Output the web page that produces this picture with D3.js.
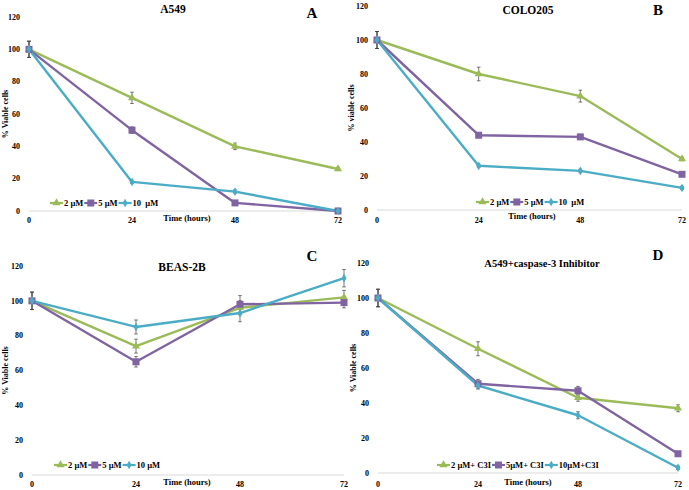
<!DOCTYPE html>
<html><head><meta charset="utf-8">
<script src="https://cdn.jsdelivr.net/npm/d3@7/dist/d3.min.js"></script>
<style>
body{margin:0;background:#fff;}
text{font-family:"Liberation Serif","Times New Roman",serif;font-weight:bold;fill:#000;white-space:pre;}
</style></head><body>
<script>
const times = [0, 24, 48, 72];
const yTicks = [0, 20, 40, 60, 80, 100, 120];
const colors = ["#9BBB59", "#8064A2", "#4BACC6"];

// Panel A: A549
const aNames = ["2 µM", "5 µM", "10  µM"];
const a2 = [100, 70, 40, 26];
const a5 = [100, 50, 5, 0];
const a10 = [100, 18, 12, 0];
const a2Err = [5, 3.5, 2, 1];
const a5Err = [5, 2, 1, 0.5];
const a10Err = [5, 1, 1, 0.5];

// Panel B: COLO205
const bNames = ["2 µM", "5 µM", "10  µM"];
const b2 = [100, 80, 67, 30];
const b5 = [100, 44, 43, 21];
const b10 = [100, 26, 23, 13];
const b2Err = [5, 4, 3.5, 1];
const b5Err = [5, 1.5, 1.5, 1];
const b10Err = [5, 1, 1, 1];

// Panel C: BEAS-2B
const cNames = ["2 µM", "5 µM", "10 µM"];
const c2 = [100, 74, 96, 102];
const c5 = [100, 65, 98, 99];
const c10 = [100, 85, 93, 113];
const c2Err = [5, 4, 4, 4];
const c5Err = [5, 3, 5, 3];
const c10Err = [5, 4, 5, 5];

// Panel D: A549 + caspase-3 inhibitor
const dNames = ["2 µM+ C3I", "5µM+ C3I", "10µM+C3I"];
const d2 = [100, 71, 43, 37];
const d5 = [100, 51, 47, 11];
const d10 = [100, 50, 33, 3];
const d2Err = [5, 4, 2, 2];
const d5Err = [5, 2.5, 2.5, 1];
const d10Err = [5, 2, 2, 1];

const panels = [
  {title:"A549", letter:"A", ylab:"% Viable cells", names:aNames, series:[a2,a5,a10], errs:[a2Err,a5Err,a10Err],
   x0:29, x1:338, y0:211, y120:17, titleX:173, titleY:13, letX:312, letY:18, legX:50, legY:203, timeX:187, timeY:221, tickY:223, ylabX:8},
  {title:"COLO205", letter:"B", ylab:"% viable cells", names:bNames, series:[b2,b5,b10], errs:[b2Err,b5Err,b10Err],
   x0:377, x1:682, y0:210, y120:6, titleX:528, titleY:14, letX:658, letY:15, legX:476, legY:202, timeX:532, timeY:219, tickY:223, ylabX:354},
  {title:"BEAS-2B", letter:"C", ylab:"% Viable cells", names:cNames, series:[c2,c5,c10], errs:[c2Err,c5Err,c10Err],
   x0:32, x1:344, y0:475, y120:266, titleX:182, titleY:271, letX:312, letY:261, legX:54, legY:465, timeX:187, timeY:485, tickY:487, ylabX:8},
  {title:"A549+caspase-3 Inhibitor", letter:"D", ylab:"% Viable cells", names:dNames, series:[d2,d5,d10], errs:[d2Err,d5Err,d10Err],
   x0:378, x1:678, y0:473, y120:263, titleX:542, titleY:267, letX:658, letY:260, legX:437, legY:465, timeX:528, timeY:485, tickY:487, ylabX:356}
];

const svg = d3.select("body").append("svg").attr("width",689).attr("height",490);

function marker(g, i, x, y){
  const c = colors[i];
  if(i===0){
    g.append("path").attr("d", d3.symbol().type(d3.symbolTriangle).size(28)()).attr("transform",`translate(${x},${y})`).attr("fill",c);
  } else if(i===1){
    g.append("rect").attr("x",x-3.5).attr("y",y-3.5).attr("width",7).attr("height",7).attr("fill",c);
  } else {
    g.append("path").attr("d", d3.symbol().type(d3.symbolDiamond).size(22)()).attr("transform",`translate(${x},${y})`).attr("fill",c);
  }
}

panels.forEach(p=>{
  const g = svg.append("g");
  const x = d3.scaleLinear().domain([0,72]).range([p.x0,p.x1]);
  const y = d3.scaleLinear().domain([0,120]).range([p.y0,p.y120]);

  g.append("line").attr("x1",p.x0).attr("x2",p.x1).attr("y1",y(0)).attr("y2",y(0)).attr("stroke","#d9d9d9").attr("stroke-width",1.2);
  g.selectAll(".yt").data(yTicks).enter().append("text")
    .attr("x",p.x0-9).attr("y",d=>y(d)+2.8).attr("text-anchor","end").attr("font-size",8).text(d=>d);
  g.selectAll(".xt").data(times).enter().append("text")
    .attr("x",d=>x(d)).attr("y",p.tickY).attr("text-anchor","middle").attr("font-size",8).text(d=>d);
  g.append("text").attr("x",p.timeX).attr("y",p.timeY).attr("text-anchor","middle").attr("font-size",8.5).text("Time (hours)");
  const cy = (p.y0+p.y120)/2;
  g.append("text").attr("transform",`translate(${p.ylabX},${cy}) rotate(-90)`).attr("text-anchor","middle").attr("font-size",8).text(p.ylab);
  g.append("text").attr("x",p.titleX).attr("y",p.titleY).attr("text-anchor","middle").attr("font-size",p.title.length>10?10.5:11.5).text(p.title);
  g.append("text").attr("x",p.letX).attr("y",p.letY).attr("text-anchor","middle").attr("font-size",15).text(p.letter);

  const line = d3.line().x((d,i)=>x(times[i])).y(d=>y(d));
  p.series.forEach((s,si)=>{
    g.append("path").datum(s).attr("d",line).attr("fill","none").attr("stroke",colors[si]).attr("stroke-width",2.4).attr("stroke-linejoin","round");
  });
  p.series.forEach((s,si)=>{
    const e = p.errs[si];
    s.forEach((v,i)=>{
      const xx = x(times[i]);
      const lo = y(v-e[i]), hi = y(v+e[i]);
      g.append("line").attr("x1",xx).attr("x2",xx).attr("y1",lo).attr("y2",hi).attr("stroke","#404040").attr("stroke-width",0.7);
      g.append("line").attr("x1",xx-1.8).attr("x2",xx+1.8).attr("y1",lo).attr("y2",lo).attr("stroke","#404040").attr("stroke-width",0.7);
      g.append("line").attr("x1",xx-1.8).attr("x2",xx+1.8).attr("y1",hi).attr("y2",hi).attr("stroke","#404040").attr("stroke-width",0.7);
    });
  });
  p.series.forEach((s,si)=>{
    s.forEach((v,i)=>marker(g,si,x(times[i]),y(v)));
  });

  let lx = p.legX;
  p.names.forEach((n,si)=>{
    g.append("line").attr("x1",lx).attr("x2",lx+13).attr("y1",p.legY).attr("y2",p.legY).attr("stroke",colors[si]).attr("stroke-width",2.2);
    marker(g,si,lx+6.5,p.legY);
    const t = g.append("text").attr("x",lx+14).attr("y",p.legY+2.8).attr("font-size",8.5).text(n);
    lx += 14 + t.node().getComputedTextLength() + 1;
  });
});
</script>
</body></html>
